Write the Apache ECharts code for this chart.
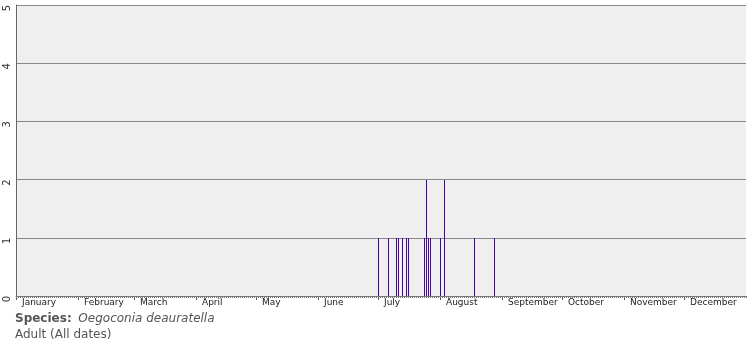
<!DOCTYPE html>
<html><head><meta charset="utf-8">
<script src="https://cdn.jsdelivr.net/npm/echarts@6/dist/echarts.min.js"></script>
<style>html,body{margin:0;padding:0;background:#fff}#c{width:755px;height:350px}</style>
</head><body><div id="c"></div>
<script>
// Day of year (0 = 1 January) of each record and its count
const recordDays = [181, 186, 190, 191, 193, 195, 196, 204, 205, 206, 207, 212, 214, 229, 239];
const recordCounts = [1, 1, 1, 1, 1, 1, 1, 1, 2, 1, 1, 1, 2, 1, 1];
const monthStarts = [0, 31, 59, 90, 120, 151, 181, 212, 243, 273, 304, 334];
const monthNames = ['January','February','March','April','May','June','July','August','September','October','November','December'];
const yTicks = [0, 1, 2, 3, 4, 5];
const speciesName = 'Oegoconia deauratella';
const subtitle = 'Adult (All dates)';

const dayTicks = [];
for (let d = 0; d <= 365; d++) dayTicks.push(d);

const chart = echarts.init(document.getElementById('c'), null, {renderer: 'canvas'});
const barData = recordDays.map((d, i) => [d, recordCounts[i]]);
chart.setOption({
  animation: false,
  grid: {left: 16, right: 9, top: 5, bottom: 54, show: true, backgroundColor: '#efefef', borderWidth: 0},
  xAxis: [{
    type: 'value', min: 0, max: 365, position: 'bottom',
    axisLine: {show: true, lineStyle: {color: '#777', width: 1}},
    axisTick: {show: true, customValues: monthStarts, length: 4, lineStyle: {color: '#555'}},
    axisLabel: {show: true, customValues: monthStarts, align: 'left', padding: [0, 0, 0, 6], margin: 2,
      fontFamily: 'DejaVu Sans', fontSize: 9, color: '#222',
      formatter: v => monthNames[monthStarts.indexOf(v)] || ''},
    splitLine: {show: false}
  }, {
    type: 'value', min: 0, max: 365, position: 'bottom',
    axisLine: {show: false},
    axisTick: {show: true, customValues: dayTicks, length: 2, lineStyle: {color: '#777'}},
    axisLabel: {show: false},
    splitLine: {show: false}
  }],
  yAxis: {
    type: 'value', min: 0, max: 5, interval: 1,
    axisLine: {show: true, lineStyle: {color: '#666', width: 1}},
    axisTick: {show: false},
    axisLabel: {rotate: 90, margin: 4, padding: [0, 6, 0, 0], fontFamily: 'DejaVu Sans', fontSize: 10, color: '#333',
      formatter: v => yTicks.includes(v) ? String(v) : ''},
    splitLine: {show: true, lineStyle: {color: '#888', width: 1}}
  },
  series: [{
    type: 'custom', xAxisIndex: 0, data: barData,
    encode: {x: 0, y: 1},
    renderItem: function (params, api) {
      const top = api.coord([api.value(0), api.value(1)]);
      const base = api.coord([api.value(0), 0]);
      const x = Math.round(top[0]);
      return {type: 'rect', shape: {x: x, y: Math.round(top[1]), width: 1, height: Math.round(base[1]) - Math.round(top[1])},
        style: {fill: '#4800aa'}};
    }
  }],
  graphic: [
    {type: 'text', left: 15, top: 313, style: {
      text: '{b|Species:}  {i|' + speciesName + '}',
      rich: {
        b: {fontFamily: 'DejaVu Sans', fontWeight: 'bold', fontSize: 12, fill: '#555'},
        i: {fontFamily: 'DejaVu Sans', fontStyle: 'italic', fontSize: 12, fill: '#555'}
      }}},
    {type: 'text', left: 15, top: 329, style: {text: subtitle, fontFamily: 'DejaVu Sans', fontSize: 12, fill: '#555'}}
  ]
});
</script></body></html>
